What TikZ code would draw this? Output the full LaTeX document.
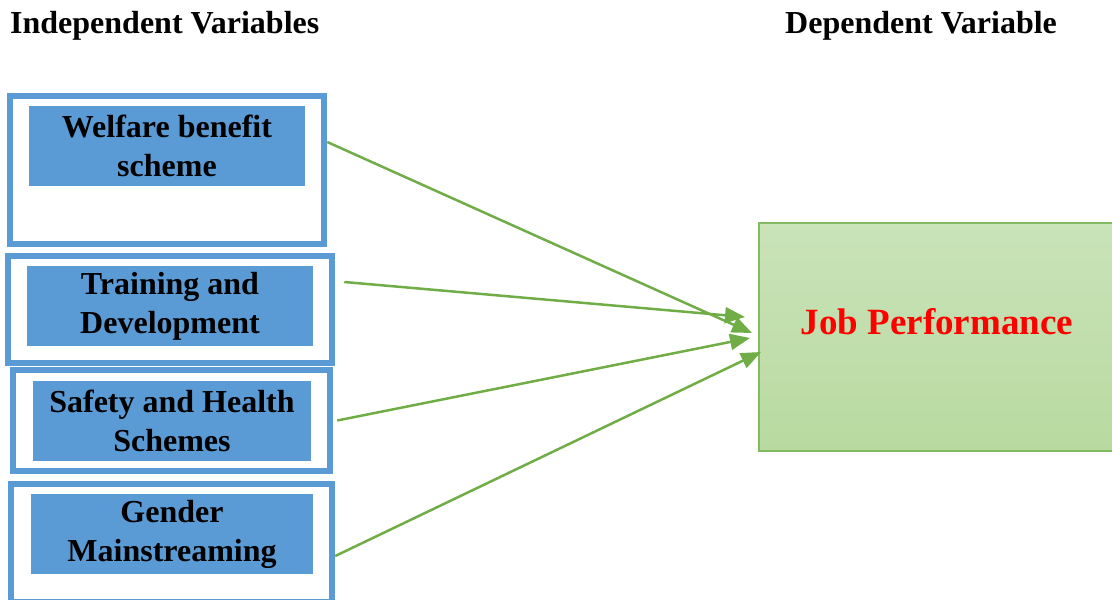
\documentclass[tikz,border=0pt]{standalone}
\usepackage{fontspec}
\setmainfont{Liberation Serif}
\usetikzlibrary{arrows.meta}

\definecolor{varblue}{RGB}{91,155,213}
\definecolor{linkgreen}{RGB}{112,173,71}
\definecolor{jpborder}{RGB}{130,186,98}
\definecolor{jptop}{RGB}{202,227,185}
\definecolor{jpbottom}{RGB}{184,218,160}

\tikzset{
    outerbox/.style = {draw=varblue, line width=6.5pt, fill=white, inner sep=0pt},
    varbox/.style = {fill=varblue, inner sep=0pt, minimum height=80pt, align=center,
        font=\fontsize{32}{39}\selectfont\bfseries},
    headline/.style = {anchor=base west, inner sep=0pt, font=\fontsize{32}{36}\selectfont\bfseries},
    link/.style = {draw=linkgreen, line width=2.5pt, -{Triangle[length=20pt,width=16pt]}}
}

\begin{document}
\begin{tikzpicture}[x=1pt, y=-1pt]
    \useasboundingbox (0,0) rectangle (1112,600);
    \clip (0,0) rectangle (1112,600);

    % headings
    \node[headline] (indep) at (10,33) {Independent Variables};
    \node[headline] (dep) at (785,33) {Dependent Variable};

    % outer frames of the independent variables
    \node[outerbox, minimum width=314pt, minimum height=148pt] (wbframe) at (167,170) {};
    \node[outerbox, minimum width=324pt, minimum height=107pt] (tdframe) at (170,309.5) {};
    \node[outerbox, minimum width=317pt, minimum height=101pt] (shframe) at (171.5,420.5) {};
    \node[outerbox, minimum width=321pt, minimum height=118pt] (gmframe) at (171.5,543) {};

    % labels of the independent variables
    \node[varbox, minimum width=276pt] (wb) at (167,146) {Welfare benefit\\scheme};
    \node[varbox, minimum width=286pt] (td) at (170,306) {Training and\\Development};
    \node[varbox, minimum width=278pt] (sh) at (172,421) {Safety and Health\\Schemes};
    \node[varbox, minimum width=282pt] (gm) at (172,534) {Gender\\Mainstreaming};

    % dependent variable
    \node[draw=jpborder, line width=1.2pt, top color=jptop, bottom color=jpbottom,
          minimum width=366pt, minimum height=228pt, inner sep=0pt,
          text=red, font=\fontsize{37}{40}\selectfont\bfseries] (jp) at (942,337)
          {\hspace*{-10pt}\raisebox{32pt}{Job Performance}};

    % arrow tips near the dependent variable
    \coordinate (t1) at (752,333);
    \coordinate (t2) at (745,317);
    \coordinate (t3) at (750,338);
    \coordinate (t4) at (761,352);

    \draw[link] ([yshift=28pt]wbframe.east) -- (t1);
    \draw[link] ([xshift=9pt,yshift=27.5pt]tdframe.east) -- (t2);
    \draw[link] ([xshift=4pt]shframe.east) -- (t3);
    \draw[link] ([yshift=-13pt]gmframe.east) -- (t4);
\end{tikzpicture}
\end{document}
